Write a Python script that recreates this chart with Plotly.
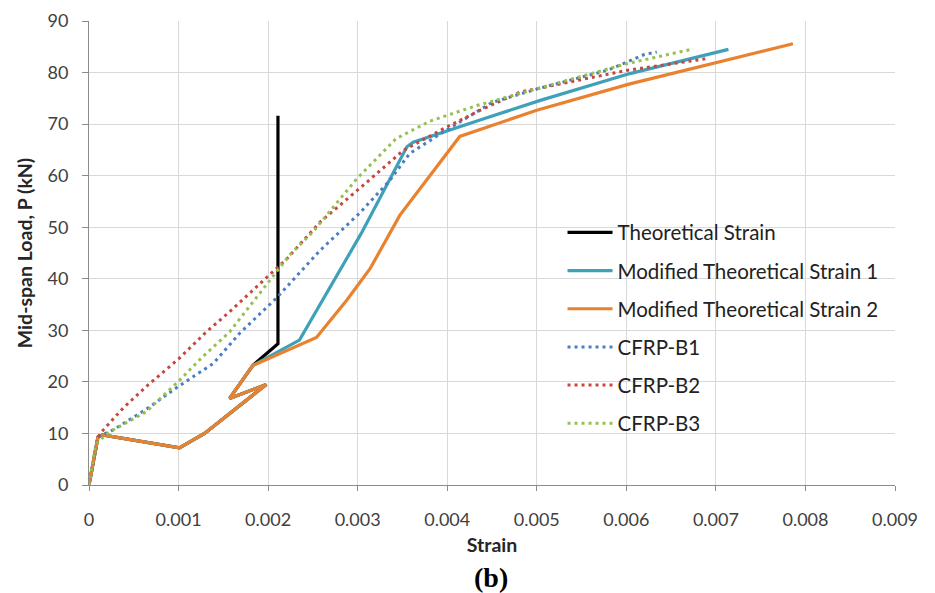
import plotly.graph_objects as go

# ---- data (strain, load kN) ----
theo_x = [0, 0.0001, 0.00015, 0.00101, 0.00129, 0.00198, 0.00157, 0.00183, 0.00211, 0.00211]
theo_y = [0, 9.3, 9.7, 7.2, 10.0, 19.5, 16.8, 23.2, 27.4, 71.6]

mod1_x = [0, 0.0001, 0.00015, 0.00101, 0.00129, 0.00198, 0.00157, 0.00183, 0.00235, 0.00261,
          0.00304, 0.00355, 0.00362, 0.0044, 0.00504, 0.00604, 0.00714]
mod1_y = [0, 9.3, 9.7, 7.2, 10.0, 19.5, 16.8, 23.2, 28.1, 35.9,
          48.8, 65.6, 66.5, 71.0, 74.6, 79.8, 84.5]

mod2_x = [0, 0.0001, 0.00015, 0.00101, 0.00129, 0.00198, 0.00157, 0.00183, 0.00254, 0.00288,
          0.00314, 0.00347, 0.00414, 0.005, 0.00604, 0.00786]
mod2_y = [0, 9.3, 9.7, 7.2, 10.0, 19.5, 16.8, 23.2, 28.6, 35.9,
          42.0, 52.3, 67.6, 72.7, 77.8, 85.6]

b1_x = [0, 0.0001, 0.00027, 0.00064, 0.00098, 0.00139, 0.00168, 0.00209, 0.00258, 0.00302,
        0.00336, 0.00358, 0.00396, 0.0045, 0.005, 0.0058, 0.006, 0.0062, 0.00634]
b1_y = [0, 9.3, 10.7, 14.7, 18.9, 23.6, 29.4, 36.2, 45.5, 52.7,
        59.1, 64.3, 68.5, 74.2, 76.8, 80.5, 82.0, 83.5, 84.0]

b2_x = [0, 0.0001, 0.00016, 0.00038, 0.00064, 0.00101, 0.00131, 0.00157, 0.00221, 0.00258,
        0.00306, 0.00351, 0.00399, 0.00437, 0.00481, 0.006, 0.0069]
b2_y = [0, 9.3, 10.7, 14.9, 19.1, 24.6, 29.7, 33.6, 43.9, 51.0,
        58.1, 64.9, 69.4, 72.7, 76.2, 80.4, 82.7]

b3_x = [0, 0.00008, 0.00023, 0.00064, 0.00101, 0.00127, 0.00157, 0.00224, 0.0025, 0.00299,
        0.00343, 0.00381, 0.00433, 0.00481, 0.0058, 0.006, 0.00675]
b3_y = [0, 8.1, 10.3, 14.2, 20.3, 24.9, 29.7, 44.6, 49.1, 59.4,
        67.2, 70.6, 73.6, 75.9, 80.6, 81.7, 84.6]

names = ["Theoretical Strain", "Modified Theoretical Strain 1", "Modified Theoretical Strain 2",
         "CFRP-B1", "CFRP-B2", "CFRP-B3"]

x_ticks = [0, 0.001, 0.002, 0.003, 0.004, 0.005, 0.006, 0.007, 0.008, 0.009]
x_tick_labels = ["0", "0.001", "0.002", "0.003", "0.004", "0.005", "0.006", "0.007", "0.008", "0.009"]
y_ticks = [0, 10, 20, 30, 40, 50, 60, 70, 80, 90]

FONT = "Lato"
DOT = "3px,4px"

fig = go.Figure()
series = [
    (theo_x, theo_y, names[0], dict(color="#000000", width=3.2)),
    (mod1_x, mod1_y, names[1], dict(color="#3FA1B9", width=3.2)),
    (mod2_x, mod2_y, names[2], dict(color="#E8822E", width=3.2)),
    (b1_x, b1_y, names[3], dict(color="#4A7EC2", width=3, dash=DOT)),
    (b2_x, b2_y, names[4], dict(color="#C8463F", width=3, dash=DOT)),
    (b3_x, b3_y, names[5], dict(color="#96C050", width=3, dash=DOT)),
]
for x, y, n, ln in series:
    fig.add_trace(go.Scatter(x=x, y=y, mode="lines", name=n, line=ln, legendgroup=n))

fig.update_layout(
    width=927, height=585,
    margin=dict(l=81, r=40, t=13, b=108, autoexpand=False),
    paper_bgcolor="white", plot_bgcolor="white",
    font=dict(family=FONT, size=18, color="#404040"),
    showlegend=True,
    legend=dict(x=0.5875, y=0.587, xanchor="left", yanchor="top",
                bgcolor="rgba(255,255,255,0)", tracegroupgap=8.5,
                font=dict(family=FONT, size=20.5, color="#222222"),
                itemwidth=45),
    xaxis=dict(range=[0, 0.009], tickvals=x_ticks, ticktext=x_tick_labels,
               showgrid=True, gridcolor="#D9D9D9", gridwidth=1,
               showline=True, linecolor="#8C8C8C", linewidth=1,
               ticks="outside", ticklen=5, tickcolor="#8C8C8C",
               zeroline=False, ticklabelstandoff=13, automargin=False,
               title=dict(text="<b>Strain</b>", standoff=9,
                          font=dict(family=FONT, size=19.5, color="#262626"))),
    yaxis=dict(range=[0, 90], tickvals=y_ticks,
               showgrid=True, gridcolor="#D9D9D9", gridwidth=1,
               showline=True, linecolor="#8C8C8C", linewidth=1,
               ticks="outside", ticklen=6, tickcolor="#8C8C8C",
               zeroline=False, ticklabelstandoff=10, automargin=False,
               title=dict(text="<b>Mid-span Load, P (kN)</b>", standoff=9,
                          font=dict(family=FONT, size=19.5, color="#262626"))),
    annotations=[dict(text="<b>(b)</b>", xref="paper", yref="paper",
                      x=0.499, y=-0.2, xanchor="center", yanchor="middle",
                      showarrow=False,
                      font=dict(family="Liberation Serif", size=28, color="#000000"))],
)

fig.write_html("out.html")
